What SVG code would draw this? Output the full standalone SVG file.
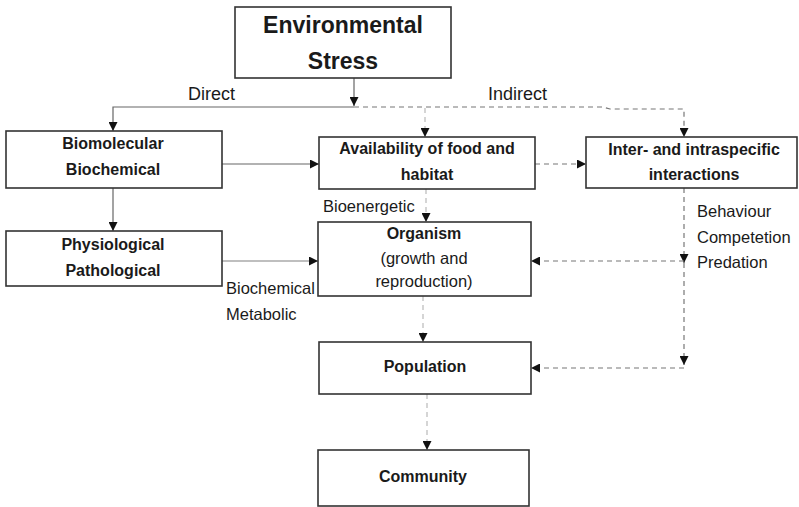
<svg xmlns="http://www.w3.org/2000/svg" width="799" height="507" viewBox="0 0 799 507">
  <defs>
    <marker id="arrow" viewBox="0 0 10 10" refX="10" refY="5" markerWidth="9" markerHeight="9" markerUnits="userSpaceOnUse" orient="auto">
      <path d="M0,0 L10,5 L0,10 Z" fill="#111"/>
    </marker>
    <style>
      .box { fill: #fff; stroke: #333; stroke-width: 1.6; }
      .lbl { font-family: "Liberation Sans", Arial, sans-serif; fill: #1a1a1a; }
      .b { font-weight: bold; font-size: 16px; text-anchor: middle; }
      .n { font-size: 16.5px; }
      .solid { fill: none; stroke: #666; stroke-width: 1.2; }
      .soft { fill: none; stroke: #aaa; stroke-width: 1.4; }
      .dash { fill: none; stroke: #777; stroke-width: 1.2; stroke-dasharray: 5 4; }
      .faint { fill: none; stroke: #c4c4c4; stroke-width: 1.4; stroke-dasharray: 5 4; }
    </style>
  </defs>
  <rect width="799" height="507" fill="#fff"/>

  <!-- connectors -->
  <g id="connectors">
    <path class="solid" d="M354,78 V106" marker-end="url(#arrow)"/>
    <path class="solid" d="M354,107 H113 V131" marker-end="url(#arrow)"/>
    <path class="dash" d="M354,107 H603 L610,109 H684 V137" marker-end="url(#arrow)"/>
    <path class="faint" d="M425,108 V137" marker-end="url(#arrow)"/>
    <path class="solid" d="M222,164 H319" marker-end="url(#arrow)"/>
    <path class="dash" d="M535,164 H586" marker-end="url(#arrow)"/>
    <path class="solid" d="M113,188 V231" marker-end="url(#arrow)"/>
    <path class="soft" d="M222,261 H318" marker-end="url(#arrow)"/>
    <path class="faint" d="M426,189 V222" marker-end="url(#arrow)"/>
    <path class="dash" d="M684,188 V263" marker-end="url(#arrow)"/>
    <path class="dash" d="M684,263 V365" marker-end="url(#arrow)"/>
    <path class="dash" d="M684,261 H531" marker-end="url(#arrow)"/>
    <path class="dash" d="M684,368 H531" marker-end="url(#arrow)"/>
    <path class="faint" d="M423,296 V342" marker-end="url(#arrow)"/>
    <path class="faint" d="M427,394 V450" marker-end="url(#arrow)"/>
  </g>

  <!-- edge labels -->
  <g id="edge-labels" class="lbl">
    <text x="188" y="100" font-size="18">Direct</text>
    <text x="488" y="100" font-size="18">Indirect</text>
    <text class="n" x="323" y="212">Bioenergetic</text>
    <text class="n" x="226" y="294">Biochemical</text>
    <text class="n" x="226" y="320">Metabolic</text>
    <text class="n" x="697" y="217">Behaviour</text>
    <text class="n" x="697" y="243">Competetion</text>
    <text class="n" x="697" y="268">Predation</text>
  </g>

  <g id="environmental-stress">
    <rect class="box" x="235" y="7" width="216" height="71"/>
    <text class="lbl" x="343" y="33" font-size="23" font-weight="bold" text-anchor="middle">Environmental</text>
    <text class="lbl" x="343" y="69" font-size="23" font-weight="bold" text-anchor="middle">Stress</text>
  </g>

  <g id="biomolecular">
    <rect class="box" x="6" y="131" width="216" height="57"/>
    <text class="lbl b" x="113" y="149">Biomolecular</text>
    <text class="lbl b" x="113" y="175">Biochemical</text>
  </g>

  <g id="availability">
    <rect class="box" x="319" y="137" width="216" height="52"/>
    <text class="lbl b" x="427" y="154">Availability of food and</text>
    <text class="lbl b" x="427" y="180">habitat</text>
  </g>

  <g id="interactions">
    <rect class="box" x="586" y="137" width="211" height="51"/>
    <text class="lbl b" x="694" y="155">Inter- and intraspecific</text>
    <text class="lbl b" x="694" y="180">interactions</text>
  </g>

  <g id="physiological">
    <rect class="box" x="6" y="231" width="216" height="55"/>
    <text class="lbl b" x="113" y="250">Physiological</text>
    <text class="lbl b" x="113" y="276">Pathological</text>
  </g>

  <g id="organism">
    <rect class="box" x="318" y="222" width="213" height="74"/>
    <text class="lbl b" x="424" y="239">Organism</text>
    <text class="lbl" x="424" y="264" font-size="16.5" text-anchor="middle">(growth and</text>
    <text class="lbl" x="424" y="287" font-size="16.5" text-anchor="middle">reproduction)</text>
  </g>

  <g id="population">
    <rect class="box" x="319" y="342" width="212" height="52"/>
    <text class="lbl b" x="425" y="372">Population</text>
  </g>

  <g id="community">
    <rect class="box" x="318" y="450" width="211" height="56"/>
    <text class="lbl b" x="423" y="482">Community</text>
  </g>
</svg>
